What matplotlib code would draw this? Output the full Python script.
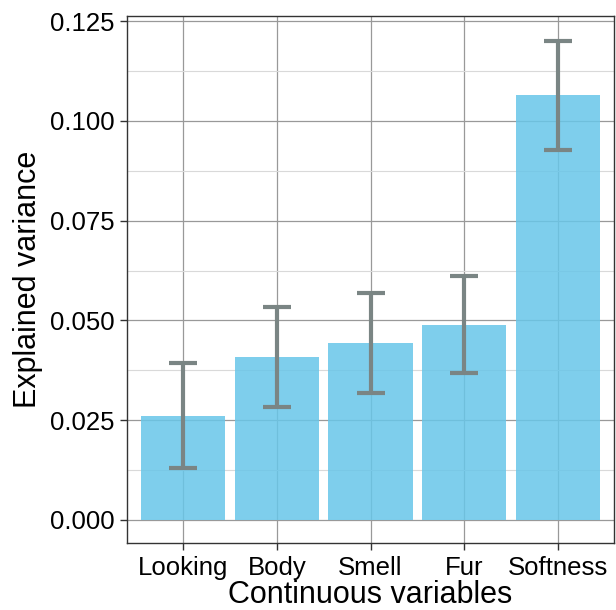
import numpy as np
import matplotlib
matplotlib.use("Agg")
import matplotlib.pyplot as plt
from matplotlib.ticker import MultipleLocator, FormatStrFormatter

# ── data ─────────────────────────────────────────────────────────────────────
categories = ["Looking", "Body", "Smell", "Fur", "Softness"]
variance   = [0.0261, 0.0408, 0.0443, 0.0489, 0.1064]
err_low    = [0.0129, 0.0283, 0.0318, 0.0368, 0.0928]
err_high   = [0.0393, 0.0533, 0.0569, 0.0612, 0.1201]

plt.rcParams["font.family"] = ["Liberation Sans", "DejaVu Sans"]

x    = np.arange(1, len(categories) + 1)
vals = np.array(variance)
yerr = np.vstack([vals - np.array(err_low), np.array(err_high) - vals])

fig = plt.figure(figsize=(6.16, 6.10), dpi=100)
ax  = fig.add_axes([0.206, 0.1098, 0.791, 0.864])

# semi-transparent bars so the grid shows through, as in the reference
ax.bar(x, vals, width=0.9, color="#68c6e9", alpha=0.85, zorder=2)
ax.errorbar(x, vals, yerr=yerr, fmt="none", ecolor="#7a8584",
            elinewidth=3.0, capsize=10, capthick=3.0, zorder=3)

ax.set_xlim(0.4, 5.6)
ax.set_ylim(-0.0058, 0.1263)
ax.yaxis.set_major_locator(MultipleLocator(0.025))
ax.yaxis.set_minor_locator(MultipleLocator(0.0125))
ax.yaxis.set_major_formatter(FormatStrFormatter("%.3f"))
ax.set_xticks(x)
ax.set_xticklabels(categories)

ax.grid(True, which="major", color="#999999", linewidth=0.9, zorder=0)
ax.grid(True, which="minor", axis="y", color="#d9d9d9", linewidth=0.8, zorder=0)
ax.set_axisbelow(True)
for s in ax.spines.values():
    s.set_color("#333333")
    s.set_linewidth(1.0)

ax.tick_params(axis="both", which="major", labelsize=18.5, colors="#333333",
               labelcolor="black", length=5, width=1, pad=4)
ax.tick_params(axis="y", which="minor", length=0)
ax.set_xlabel("Continuous variables", fontsize=22, labelpad=0)
ax.set_ylabel("Explained variance", fontsize=22, labelpad=5)

fig.savefig("out.png", dpi=100)
